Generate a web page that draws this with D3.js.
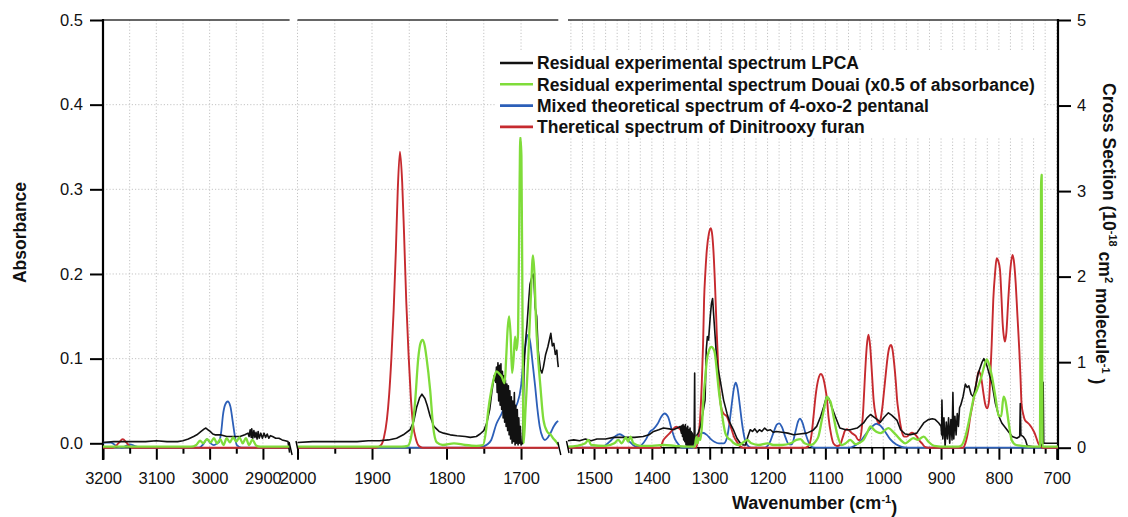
<!DOCTYPE html>
<html><head><meta charset="utf-8">
<script src="https://cdn.jsdelivr.net/npm/d3@7"></script>
<style>
body{margin:0;background:#fff;}
svg{font-family:Arial,"Liberation Sans",sans-serif;display:block;}
</style></head><body>
<svg id="c" width="1128" height="517"></svg>
<script>
// ---------------- DATA ----------------
const seriesNames = [
  "Residual experimental spectrum LPCA",
  "Residual experimental spectrum Douai (x0.5 of absorbance)",
  "Mixed theoretical spectrum of 4-oxo-2 pentanal",
  "Theretical spectrum of Dinitrooxy furan"
];
const leftTicks = [0, 0.1, 0.2, 0.3, 0.4, 0.5];
const rightTicks = [0, 1, 2, 3, 4, 5];
const seg1Major = [3200, 3100, 3000, 2900];
const seg1Minor = [3150, 3050, 2950];
const seg2Major = [2000, 1900, 1800, 1700];
const seg2Minor = [1950, 1850, 1750];
const seg3Major = [1500, 1400, 1300, 1200, 1100, 1000, 900, 800, 700];
const seg3Minor = [1540, 1520, 1480, 1460, 1440, 1420, 1380, 1360, 1340, 1320, 1280, 1260, 1240, 1220, 1180, 1160, 1140, 1120, 1080, 1060, 1040, 1020, 980, 960, 940, 920, 880, 860, 840, 820, 780, 760, 740, 720];

// Residual experimental spectrum LPCA (absorbance)
const lpca = [
  [3200,0.001],[3180,0.002],[3150,0.002],[3120,0.002],[3100,0.003],[3080,0.002],[3060,0.002],[3050,0.003],[3040,0.005],[3030,0.008],[3024,0.010],[3016,0.014],[3010,0.017],[3007,0.018],[3003,0.016],[2999,0.014],[2994,0.011],[2990,0.010],[2980,0.010],[2968,0.008],[2955,0.008],[2943,0.008],[2934,0.010],[2928,0.012],
  [2926,0.008],[2924,0.016],[2922,0.007],[2921,0.017],[2919,0.006],[2917,0.015],[2915,0.007],[2913,0.013],[2911,0.005],[2909,0.014],[2907,0.006],[2904,0.012],[2901,0.006],[2898,0.012],[2895,0.007],[2892,0.011],[2889,0.006],[2886,0.009],[2882,0.008],[2876,0.006],[2870,0.006],[2864,0.004],[2858,0.003],[2853,0.002],[2850,-0.011],
  [2000,0.001],[1980,0.002],[1960,0.002],[1940,0.002],[1920,0.002],[1905,0.003],[1890,0.003],[1878,0.004],[1867,0.006],[1858,0.010],[1849,0.016],[1844,0.026],[1840,0.043],[1836,0.054],[1833,0.058],[1829,0.053],[1826,0.045],[1822,0.032],[1817,0.020],[1810,0.014],[1804,0.012],[1795,0.010],[1786,0.009],[1775,0.008],[1768,0.007],[1760,0.008],[1755,0.011],[1750,0.015],[1746,0.024],[1742,0.040],[1739,0.062],[1736,0.080],
  [1734,0.072],[1733,0.090],[1732,0.060],[1731,0.095],[1730,0.050],[1729,0.092],[1728,0.045],[1727,0.094],[1726,0.040],[1725,0.085],[1724,0.030],[1723,0.080],[1722,0.025],[1721,0.075],[1720,0.020],[1719,0.070],[1718,0.015],[1717,0.068],[1716,0.010],[1715,0.062],[1714,0.005],[1713,0.055],[1712,0.000],[1711,0.050],[1710,0.002],[1709,0.060],[1708,-0.002],[1707,0.045],[1706,0.000],[1705,0.040],[1704,-0.002],[1703,0.030],[1702,0.000],[1701,0.020],[1700,-0.002],[1698,0.000],[1697,0.040],[1696,0.090],[1694,0.120],[1692,0.140],[1690,0.165],[1688,0.188],[1685,0.198],[1683,0.200],[1681,0.160],[1679,0.150],[1677,0.110],[1674,0.087],[1672,0.083],[1670,0.090],[1667,0.105],[1664,0.114],[1662,0.122],[1660,0.130],[1658,0.115],[1656,0.118],[1654,0.105],[1652,0.110],[1651,0.098],[1650,0.090],
  [1545,0.003],[1535,0.004],[1525,0.003],[1515,0.005],[1505,0.003],[1495,0.005],[1480,0.005],[1466,0.007],[1450,0.007],[1430,0.007],[1415,0.008],[1405,0.010],[1397,0.014],[1388,0.016],[1380,0.018],[1370,0.017],[1363,0.016],[1356,0.018],[1351,0.020],
  [1349,0.012],[1348,0.021],[1347,0.008],[1346,0.022],[1345,0.004],[1344,0.020],[1343,0.002],[1342,0.022],[1341,-0.002],[1340,0.018],[1339,-0.003],[1338,0.020],[1337,-0.004],[1336,0.016],[1335,-0.004],[1334,0.018],[1333,-0.004],[1332,0.014],[1331,-0.003],[1330,0.012],[1329,-0.002],[1328,0.010],[1327,0.000],[1326,0.083],[1325.5,0.000],[1324,0.006],[1322,0.010],[1320,0.012],[1316,0.020],[1312,0.035],[1308,0.051],[1306,0.110],[1304,0.126],[1302,0.122],[1299,0.150],[1297,0.165],[1295,0.171],[1293,0.150],[1291,0.130],[1288,0.100],[1286,0.090],[1282,0.075],[1276,0.051],[1270,0.035],[1265,0.024],[1259,0.016],[1253,0.006],[1247,0.000],[1242,-0.002],[1238,-0.002],[1234,0.008],[1230,0.016],[1226,0.014],[1222,0.017],[1218,0.013],[1214,0.016],[1210,0.014],[1205,0.018],[1200,0.015],[1195,0.016],[1190,0.013],[1185,0.014],[1175,0.013],[1165,0.012],[1155,0.010],[1145,0.011],[1132,0.012],[1122,0.015],[1115,0.020],[1108,0.032],[1103,0.043],[1098,0.055],[1094,0.053],[1090,0.045],[1083,0.032],[1075,0.018],[1065,0.016],[1057,0.016],[1045,0.018],[1034,0.024],[1028,0.030],[1022,0.034],[1016,0.031],[1010,0.028],[1005,0.025],[998,0.031],[991,0.036],[985,0.033],[976,0.027],[970,0.016],[962,0.011],[953,0.010],[942,0.012],[930,0.024],[922,0.028],[915,0.029],[910,0.028],[904,0.024],
  [900,0.020],[899,0.010],[898.5,0.051],[897,0.005],[895,0.030],[893,-0.004],[891,0.025],[889,0.005],[887,0.030],[885,0.000],[883,0.028],[881,0.004],[879.5,0.060],[878,0.005],[876,0.032],[874,0.010],[872,0.035],[870,0.020],[868,0.042],[866,0.045],[862,0.055],[858,0.070],[855,0.066],[852,0.068],[848,0.058],[844,0.055],[840,0.068],[836,0.082],[832,0.090],[829,0.096],[826,0.100],[823,0.096],[820,0.090],[816,0.080],[812,0.071],[806,0.047],[800,0.032],[795,0.024],[786,0.016],[777,0.008],[769,0.006],[764,0.008],[763,0.047],[762,0.010],[758,0.008],[754,0.004],[751,-0.003],[740,-0.004],[728,-0.004],[724.5,0.000],[723.5,0.072],[722.5,0.000],[715,0.000],[698,0.000]
];

// Residual experimental spectrum Douai (x0.5, absorbance)
const douai = [
  [3200,-0.004],[3100,-0.004],[3035,-0.004],[3025,-0.002],[3018,0.003],[3012,0.000],[3005,0.005],[2998,0.001],[2992,0.006],[2986,0.000],[2980,0.005],[2974,-0.002],[2968,0.006],[2962,0.001],[2956,0.007],[2950,0.002],[2944,0.007],[2938,0.000],[2932,0.006],[2926,-0.002],[2920,0.004],[2912,-0.003],[2905,-0.004],[2850,-0.004],
  [2000,-0.004],[1860,-0.004],[1852,-0.003],[1847,0.010],[1842,0.051],[1838,0.100],[1835,0.118],[1832,0.122],[1829,0.114],[1827,0.102],[1822,0.063],[1818,0.020],[1813,0.001],[1805,-0.002],[1790,0.000],[1775,-0.002],[1760,-0.003],[1751,-0.002],[1747,0.015],[1744,0.039],[1740,0.062],[1737,0.075],[1733,0.085],[1729,0.082],[1726,0.079],[1722,0.071],[1720,0.100],[1718,0.135],[1716,0.150],[1714,0.128],[1712,0.083],[1710,0.100],[1708,0.126],[1706,0.110],[1704,0.130],[1702,0.300],[1701,0.362],[1699.5,0.340],[1698,0.146],[1696.5,0.000],[1694,0.040],[1690,0.107],[1687,0.170],[1684,0.222],[1682,0.200],[1680,0.146],[1677,0.100],[1674,0.067],[1670,0.028],[1665,0.014],[1660,0.010],[1657,0.006],[1653,0.002],[1650,-0.002],
  [1545,-0.004],[1530,-0.003],[1515,0.000],[1510,0.004],[1505,-0.002],[1480,-0.003],[1465,0.000],[1458,0.004],[1452,0.000],[1445,0.007],[1441,0.002],[1437,0.008],[1432,0.000],[1420,-0.003],[1400,-0.003],[1380,-0.002],[1360,-0.003],[1340,-0.004],[1326,-0.004],[1323,0.008],[1321,0.000],[1319,0.006],[1316,0.004],[1313,0.025],[1311,0.051],[1308,0.075],[1305,0.098],[1301,0.110],[1297,0.114],[1294,0.112],[1291,0.106],[1288,0.088],[1285,0.067],[1282,0.050],[1279,0.036],[1276,0.022],[1273,0.012],[1268,0.006],[1264,0.004],[1258,0.000],[1250,-0.002],[1240,0.002],[1235,0.004],[1228,0.000],[1215,-0.002],[1200,0.000],[1190,-0.002],[1175,-0.002],[1160,0.000],[1150,0.004],[1143,0.005],[1136,0.000],[1125,-0.002],[1117,0.002],[1112,0.008],[1106,0.028],[1101,0.045],[1097,0.055],[1094,0.052],[1091,0.049],[1086,0.032],[1080,0.012],[1072,-0.002],[1065,0.000],[1057,0.004],[1048,-0.001],[1040,0.001],[1034,0.004],[1028,0.012],[1022,0.020],[1016,0.016],[1010,0.013],[1004,0.012],[998,0.015],[991,0.018],[985,0.015],[978,0.010],[970,0.004],[962,0.000],[955,0.003],[948,0.006],[940,0.004],[930,0.008],[922,0.002],[912,-0.003],[890,-0.004],[870,-0.004],[864,-0.002],[858,0.008],[850,0.032],[843,0.055],[838,0.063],[830,0.079],[825,0.092],[821,0.099],[817,0.093],[812,0.079],[806,0.055],[800,0.032],[796,0.032],[792,0.055],[789,0.051],[783,0.024],[778,0.004],[770,-0.002],[760,-0.003],[740,-0.004],[729,-0.004],[727.5,0.200],[727,0.317],[726,0.317],[725.5,0.200],[724.5,-0.004],[698,-0.004]
];

// Mixed theoretical spectrum of 4-oxo-2 pentanal (cross section)
const pentanal = [
  [3200,0.06],[3185,0.06],[3175,0.02],[3165,0.00],[3150,0.04],[3140,0.02],[3130,0.00],[3020,0.00],[3012,0.04],[3005,0.10],[2998,0.05],[2992,0.03],[2986,0.05],[2982,0.07],[2978,0.20],[2975,0.38],[2971,0.50],[2966,0.54],[2961,0.48],[2957,0.32],[2953,0.15],[2949,0.03],[2940,0.00],[2850,0.00],
  [2000,0.00],[1760,0.00],[1752,0.01],[1745,0.04],[1740,0.09],[1733,0.28],[1727,0.38],[1722,0.46],[1718,0.46],[1713,0.41],[1709,0.46],[1705,0.52],[1700,0.72],[1697,1.00],[1694,1.20],[1691,1.32],[1688,1.25],[1684,0.95],[1681,0.71],[1678,0.45],[1675,0.25],[1671,0.12],[1668,0.09],[1664,0.12],[1660,0.18],[1656,0.25],[1652,0.30],[1650,0.31],
  [1545,0.00],[1490,0.00],[1480,0.03],[1470,0.09],[1462,0.14],[1456,0.157],[1450,0.14],[1440,0.08],[1432,0.03],[1425,0.01],[1418,0.03],[1410,0.10],[1403,0.19],[1397,0.22],[1390,0.28],[1384,0.36],[1378,0.40],[1372,0.36],[1366,0.22],[1360,0.10],[1354,0.04],[1348,0.00],[1330,0.00],[1325,0.06],[1319,0.13],[1312,0.175],[1305,0.15],[1298,0.10],[1292,0.07],[1284,0.05],[1276,0.05],[1270,0.12],[1266,0.28],[1262,0.50],[1258,0.70],[1255,0.76],[1252,0.70],[1248,0.50],[1244,0.28],[1240,0.12],[1235,0.03],[1228,0.00],[1205,0.00],[1197,0.05],[1190,0.17],[1184,0.27],[1180,0.285],[1175,0.24],[1169,0.12],[1163,0.04],[1158,0.04],[1152,0.18],[1147,0.31],[1144,0.34],[1140,0.30],[1134,0.16],[1128,0.05],[1120,0.00],[1060,0.00],[1050,0.02],[1040,0.07],[1030,0.16],[1020,0.24],[1012,0.28],[1005,0.26],[997,0.19],[988,0.10],[978,0.04],[968,0.01],[958,0.00],[698,0.00]
];

// Theoretical spectrum of Dinitrooxy furan (cross section)
const furan = [
  [3200,0.00],[3182,0.00],[3176,0.02],[3170,0.06],[3163,0.10],[3156,0.06],[3150,0.02],[3145,0.00],[2850,0.00],
  [2000,0.00],[1895,0.00],[1888,0.03],[1884,0.12],[1880,0.33],[1877,0.62],[1874,1.05],[1871,1.60],[1868,2.30],[1865.5,3.00],[1862.5,3.46],[1859.5,3.10],[1857,2.50],[1854,1.70],[1851,1.10],[1848,0.60],[1845,0.28],[1841,0.10],[1837,0.02],[1832,0.00],[1650,0.00],
  [1545,0.00],[1386,0.00],[1380,0.09],[1375,0.13],[1369,0.17],[1363,0.22],[1358,0.245],[1352,0.22],[1346,0.17],[1340,0.10],[1334,0.05],[1328,0.01],[1324,0.00],[1320,0.10],[1317,0.30],[1313.7,0.75],[1311.5,1.20],[1309.7,1.73],[1307.5,2.05],[1305,2.31],[1301.5,2.50],[1298.1,2.566],[1295.5,2.48],[1293.6,2.31],[1290.5,1.85],[1287.8,1.34],[1285,0.90],[1282,0.56],[1279,0.44],[1276,0.40],[1270,0.36],[1266,0.29],[1262,0.21],[1257.5,0.12],[1253,0.07],[1248,0.02],[1242,0.00],[1135,0.00],[1129,0.02],[1124,0.15],[1120.6,0.36],[1117,0.60],[1114.8,0.71],[1111,0.83],[1108,0.862],[1105,0.84],[1100.4,0.71],[1097,0.55],[1094.6,0.36],[1090,0.15],[1086,0.05],[1080,0.02],[1075,0.03],[1070,0.12],[1066,0.20],[1063,0.215],[1059,0.20],[1054,0.17],[1048,0.14],[1043,0.09],[1041,0.09],[1037.5,0.20],[1034.5,0.45],[1031.5,0.85],[1028.5,1.18],[1025.5,1.32],[1022.5,1.18],[1019.5,0.87],[1016.5,0.55],[1013,0.38],[1010,0.31],[1007,0.285],[1004,0.35],[1001,0.50],[998,0.70],[995,0.90],[992,1.08],[989.5,1.17],[986.7,1.20],[984,1.15],[981,0.98],[978,0.75],[976,0.56],[973.5,0.42],[970.6,0.285],[967,0.17],[964,0.13],[959,0.13],[954,0.16],[950.4,0.175],[946,0.16],[941.7,0.13],[937,0.08],[933,0.05],[928,0.01],[922,0.00],[862,0.00],[858,0.05],[853,0.20],[849.5,0.36],[845,0.52],[840.9,0.675],[837.5,0.82],[835,0.89],[832,0.86],[829.9,0.79],[827,0.65],[824,0.52],[820,0.46],[817,0.55],[815.4,0.75],[812.5,1.20],[809.7,1.73],[806.5,2.05],[803.9,2.215],[801,2.18],[798.1,2.08],[795.5,1.75],[793.5,1.455],[791,1.28],[789.5,1.24],[787,1.35],[783.8,1.73],[780,2.10],[776.4,2.254],[773.5,2.15],[770.9,1.92],[768,1.55],[764.7,1.14],[762.5,0.80],[760.9,0.52],[757.5,0.38],[754.8,0.32],[750,0.29],[746.4,0.265],[742,0.22],[738,0.168],[735,0.11],[731.8,0.05],[728,0.01],[724,0.00],[698,0.00]
];

// ---------------- LAYOUT ----------------
const plotTop = 20, plotBottom = 447.7, plotLeft = 103, plotRight = 1058;
const svg = d3.select("#c");
const yL = d3.scaleLinear().domain([-0.0052, 0.5]).range([plotBottom, plotTop]);
const yR = d3.scaleLinear().domain([0, 5]).range([plotBottom, plotTop]);
const segments = [
  {domain:[3200,2850], range:[103,289.6], major:seg1Major, minor:seg1Minor},
  {domain:[2000,1650], range:[297.5,558.3], major:seg2Major, minor:seg2Minor},
  {domain:[1545,697.8], range:[568,1058], major:seg3Major, minor:seg3Minor}
];
segments.forEach(s => { s.x = d3.scaleLinear().domain(s.domain).range(s.range); });

// grid
const grid = svg.append("g").attr("stroke","#bdbdbd").attr("stroke-width",0.9).attr("stroke-dasharray","1.2,2");
segments.forEach(s => {
  s.major.concat(s.minor).forEach(v => {
    grid.append("line").attr("x1",s.x(v)).attr("x2",s.x(v)).attr("y1",plotTop).attr("y2",plotBottom);
  });
});
leftTicks.filter(v => v > 0 && v < 0.5).forEach(v => {
  grid.append("line").attr("x1",plotLeft).attr("x2",plotRight).attr("y1",yL(v)).attr("y2",yL(v));
});

// bottom axes
segments.forEach(s => {
  const gMin = svg.append("g").attr("transform",`translate(0,${plotBottom})`)
    .call(d3.axisBottom(s.x).tickValues(s.minor).tickSize(6).tickFormat(""));
  gMin.select(".domain").remove();
  gMin.selectAll("line").attr("stroke","#000").attr("stroke-width",2);
  const gMaj = svg.append("g").attr("transform",`translate(0,${plotBottom})`)
    .call(d3.axisBottom(s.x).tickValues(s.major).tickSize(12).tickPadding(13).tickFormat(d3.format("d")));
  gMaj.select(".domain").remove();
  gMaj.selectAll("line").attr("stroke","#000").attr("stroke-width",2);
  gMaj.selectAll("text").attr("font-size","16.5px").attr("fill","#111").attr("font-family","Arial, 'Liberation Sans', sans-serif");
  svg.append("line").attr("x1",s.range[0]).attr("x2",s.range[1]).attr("y1",plotBottom).attr("y2",plotBottom).attr("stroke","#000").attr("stroke-width",1.5);
  svg.append("line").attr("x1",s.range[0]).attr("x2",s.range[1]).attr("y1",plotTop).attr("y2",plotTop).attr("stroke","#333").attr("stroke-width",1.6);
});

// left / right axes
const gL = svg.append("g").attr("transform",`translate(${plotLeft},0)`)
  .call(d3.axisLeft(yL).tickValues(leftTicks).tickSize(13).tickPadding(7).tickFormat(d3.format(".1f")));
gL.select(".domain").remove();
gL.selectAll("line").attr("stroke","#000").attr("stroke-width",2);
gL.selectAll("text").attr("font-size","16.5px").attr("fill","#111").attr("font-family","Arial, 'Liberation Sans', sans-serif");
const gR = svg.append("g").attr("transform",`translate(${plotRight},0)`)
  .call(d3.axisRight(yR).tickValues(rightTicks).tickSize(13).tickPadding(6).tickFormat(d3.format("d")));
gR.select(".domain").remove();
gR.selectAll("line").attr("stroke","#000").attr("stroke-width",2);
gR.selectAll("text").attr("font-size","16.5px").attr("fill","#111").attr("font-family","Arial, 'Liberation Sans', sans-serif");
svg.append("line").attr("x1",plotLeft).attr("x2",plotLeft).attr("y1",plotTop-1).attr("y2",460).attr("stroke","#000").attr("stroke-width",2.2);
svg.append("line").attr("x1",plotRight).attr("x2",plotRight).attr("y1",plotTop-1).attr("y2",460).attr("stroke","#000").attr("stroke-width",2.2);

// series
const series = [
  {data:pentanal, y:yR, color:"#2c5fb8", width:1.8, curve:d3.curveMonotoneX},
  {data:furan, y:yR, color:"#c62a2f", width:1.9, curve:d3.curveMonotoneX},
  {data:lpca, y:yL, color:"#111111", width:1.6, curve:d3.curveLinear},
  {data:douai, y:yL, color:"#7fdc3a", width:2.3, curve:d3.curveMonotoneX}
];
series.forEach(sr => {
  segments.forEach(s => {
    const lo = Math.min(...s.domain) - 0.01, hi = Math.max(...s.domain) + 0.01;
    const pts = sr.data.filter(d => d[0] >= lo && d[0] <= hi);
    if (pts.length < 2) return;
    const line = d3.line().x(d => s.x(d[0])).y(d => sr.y(d[1])).curve(sr.curve);
    svg.append("path").attr("d", line(pts)).attr("fill","none")
      .attr("stroke", sr.color).attr("stroke-width", sr.width).attr("stroke-linejoin","round");
  });
});

// break marks
segments.forEach((s, i) => {
  if (i < segments.length - 1) {
    svg.append("line").attr("x1",s.range[1]-0.5).attr("y1",442).attr("x2",s.range[1]+2.5).attr("y2",455).attr("stroke","#000").attr("stroke-width",1.4);
  }
  if (i > 0) {
    svg.append("line").attr("x1",s.range[0]-1.5).attr("y1",441).attr("x2",s.range[0]+1).attr("y2",453).attr("stroke","#000").attr("stroke-width",1.4);
  }
});

// legend
const legendColors = ["#111111","#7fdc3a","#2c5fb8","#c62a2f"];
svg.append("rect").attr("x",496).attr("y",51).attr("width",546).attr("height",86).attr("fill","#fff");
seriesNames.forEach((n, i) => {
  const cy = 63 + i * 21.3;
  svg.append("line").attr("x1",500).attr("x2",533).attr("y1",cy).attr("y2",cy).attr("stroke",legendColors[i]).attr("stroke-width",2.6);
  svg.append("text").attr("x",537).attr("y",cy + 6.2).attr("font-size","17.5px").attr("font-weight","bold").attr("fill","#111").text(n);
});

// titles
svg.append("text").attr("transform","translate(26,232.5) rotate(-90)").attr("text-anchor","middle")
  .attr("font-size","17.5px").attr("font-weight","bold").attr("fill","#111").text("Absorbance");

const rt = svg.append("text").attr("transform","translate(1103,83) rotate(90)").attr("text-anchor","start")
  .attr("font-size","17.5px").attr("font-weight","bold").attr("fill","#111");
rt.append("tspan").text("Cross Section (10");
rt.append("tspan").attr("dy","-0.55em").attr("font-size","11px").text("-18");
rt.append("tspan").attr("dy","0.55em").text(" cm");
rt.append("tspan").attr("dy","-0.55em").attr("font-size","11px").text("2");
rt.append("tspan").attr("dy","0.55em").text(" molecule");
rt.append("tspan").attr("dy","-0.55em").attr("font-size","11px").text("-1");
rt.append("tspan").attr("dy","0.55em").text(" )");

const xt = svg.append("text").attr("x",732).attr("y",509)
  .attr("font-size","18px").attr("font-weight","bold").attr("fill","#111");
xt.append("tspan").text("Wavenumber (cm");
xt.append("tspan").attr("dy","-0.55em").attr("font-size","11px").text("-1");
xt.append("tspan").attr("dy","0.55em").text(")");
</script>
</body></html>
